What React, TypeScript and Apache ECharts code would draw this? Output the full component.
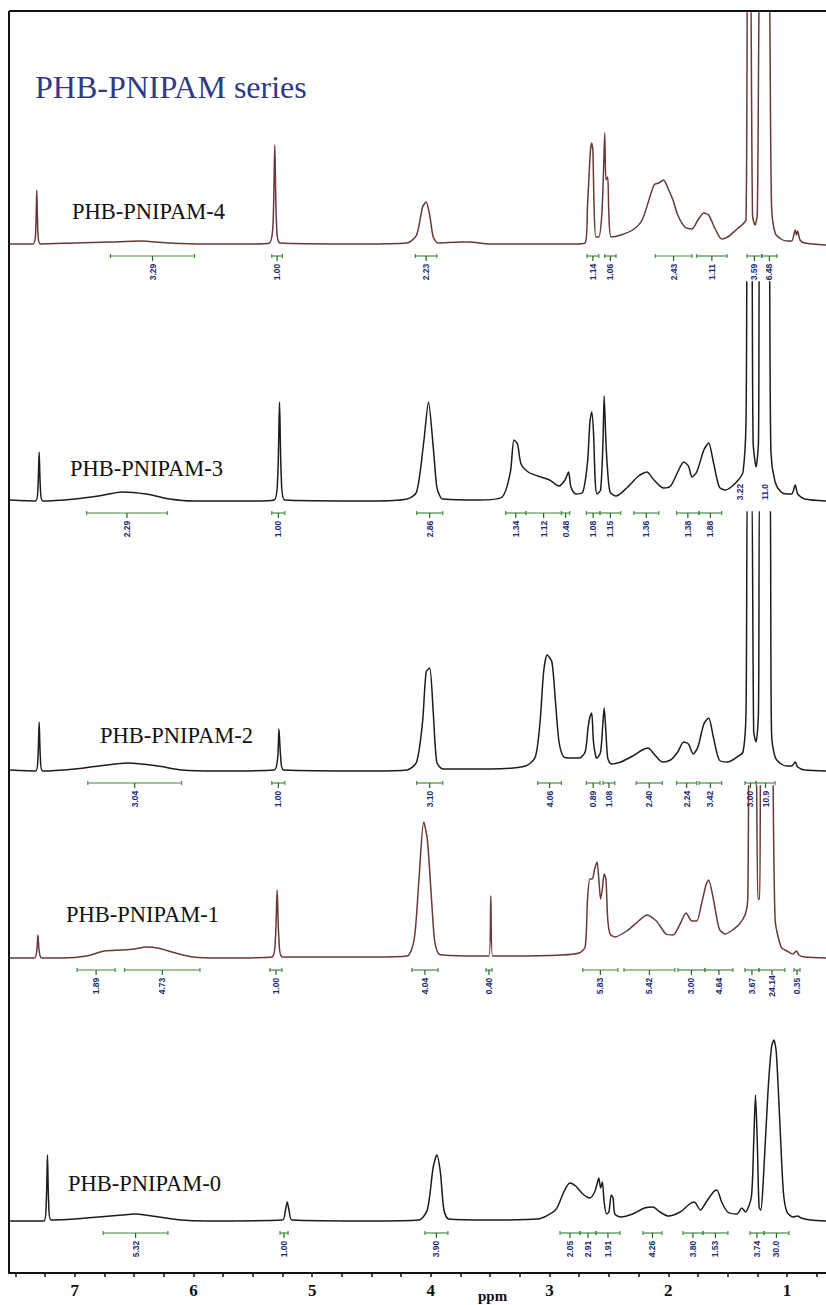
import React, { useEffect, useRef } from "react";
import * as echarts from "echarts";

// ---------- axis ----------
const PPM_LEFT = 7.554;
const PPM_RIGHT = 0.671;
const tickValues = [7.5, 7.25, 7, 6.75, 6.5, 6.25, 6, 5.75, 5.5, 5.25, 5, 4.75, 4.5, 4.25, 4, 3.75, 3.5, 3.25, 3, 2.75, 2.5, 2.25, 2, 1.75, 1.5, 1.25, 1, 0.75];
const labelValues = [7, 6, 5, 4, 3, 2, 1];
const titleText = "PHB-PNIPAM series";
const axisName = "ppm";
const sampleNames = ["PHB-PNIPAM-4", "PHB-PNIPAM-3", "PHB-PNIPAM-2", "PHB-PNIPAM-1", "PHB-PNIPAM-0"];

// ---------- spectra: [ppm, intensity] ----------
const spec4 = [
  [7.55, 1], [7.35, 1], [7.33, 12], [7.32, 55], [7.31, 12], [7.29, 1], [7.0, 2], [6.7, 3], [6.45, 4], [6.2, 2], [5.9, 1],
  [5.5, 1], [5.36, 2], [5.33, 20], [5.315, 100], [5.30, 20], [5.27, 2], [4.6, 1], [4.2, 2], [4.12, 10], [4.07, 38], [4.04, 43],
  [4.01, 30], [3.98, 8], [3.94, 2], [3.75, 3], [3.68, 3], [3.5, 1], [2.8, 1], [2.7, 2], [2.68, 40], [2.665, 75], [2.655, 95],
  [2.645, 102], [2.635, 95], [2.625, 40], [2.61, 8], [2.585, 8], [2.56, 30], [2.545, 75], [2.535, 112], [2.525, 65], [2.51, 68],
  [2.50, 30], [2.48, 8], [2.4, 10], [2.3, 15], [2.22, 25], [2.12, 60], [2.08, 62], [2.04, 65], [2.0, 56], [1.96, 45], [1.92, 30],
  [1.86, 18], [1.80, 16], [1.75, 25], [1.70, 32], [1.66, 30], [1.60, 15], [1.55, 6], [1.5, 8], [1.42, 16], [1.38, 20], [1.345, 25],
  [1.33, 300], [1.31, 300], [1.29, 30], [1.27, 20], [1.25, 30], [1.22, 300], [1.16, 300], [1.13, 40], [1.10, 12], [1.05, 6],
  [1.0, 4], [0.96, 4], [0.93, 15], [0.92, 10], [0.91, 14], [0.89, 5], [0.85, 2], [0.67, 0],
];
const spec3 = [
  [7.55, 2], [7.33, 1], [7.31, 15], [7.30, 50], [7.29, 15], [7.27, 1], [7.0, 3], [6.8, 6], [6.6, 10], [6.4, 8], [6.2, 3], [6.0, 1],
  [5.5, 1], [5.32, 2], [5.29, 25], [5.275, 100], [5.26, 25], [5.23, 2], [4.5, 1], [4.2, 3], [4.12, 10], [4.06, 60], [4.02, 100],
  [3.98, 55], [3.95, 15], [3.92, 5], [3.9, 3], [3.6, 2], [3.4, 5], [3.33, 30], [3.30, 62], [3.27, 58], [3.24, 38], [3.18, 30],
  [3.10, 26], [3.00, 22], [2.92, 16], [2.87, 22], [2.84, 30], [2.82, 15], [2.78, 8], [2.72, 10], [2.68, 40], [2.66, 80],
  [2.645, 90], [2.63, 70], [2.615, 20], [2.60, 8], [2.57, 12], [2.55, 60], [2.54, 106], [2.525, 60], [2.51, 30], [2.49, 10],
  [2.44, 6], [2.35, 14], [2.25, 26], [2.18, 30], [2.12, 22], [2.04, 14], [1.98, 16], [1.92, 30], [1.87, 40], [1.83, 36],
  [1.80, 25], [1.76, 30], [1.70, 52], [1.66, 59], [1.62, 40], [1.57, 15], [1.52, 12], [1.47, 15], [1.41, 22], [1.37, 30],
  [1.345, 80], [1.33, 300], [1.30, 300], [1.285, 60], [1.26, 35], [1.24, 60], [1.225, 300], [1.16, 300], [1.135, 50],
  [1.10, 20], [1.05, 10], [1.0, 8], [0.96, 8], [0.93, 17], [0.91, 8], [0.85, 3], [0.67, 1],
];
const spec2 = [
  [7.55, 2], [7.33, 1], [7.31, 15], [7.30, 50], [7.29, 15], [7.27, 1], [7.0, 3], [6.8, 6], [6.55, 9], [6.3, 6], [6.1, 2], [5.8, 1],
  [5.32, 2], [5.29, 15], [5.28, 43], [5.265, 15], [5.24, 2], [4.5, 1], [4.2, 2], [4.12, 10], [4.07, 50], [4.04, 100], [4.01, 104],
  [3.98, 60], [3.95, 10], [3.9, 3], [3.5, 3], [3.2, 6], [3.12, 15], [3.08, 50], [3.05, 100], [3.02, 117], [2.98, 110], [2.95, 70],
  [2.92, 30], [2.88, 15], [2.82, 14], [2.75, 14], [2.70, 20], [2.675, 45], [2.66, 55], [2.645, 59], [2.63, 30], [2.61, 15],
  [2.60, 14], [2.57, 20], [2.55, 50], [2.54, 64], [2.525, 40], [2.51, 14], [2.48, 8], [2.4, 10], [2.3, 16], [2.22, 22],
  [2.17, 24], [2.12, 18], [2.05, 10], [1.98, 12], [1.92, 20], [1.87, 30], [1.83, 28], [1.79, 18], [1.75, 25], [1.70, 48],
  [1.66, 54], [1.62, 35], [1.57, 12], [1.5, 10], [1.42, 15], [1.37, 20], [1.345, 60], [1.33, 300], [1.30, 300], [1.28, 40],
  [1.26, 30], [1.24, 60], [1.225, 300], [1.15, 300], [1.13, 40], [1.10, 15], [1.05, 8], [1.0, 6], [0.96, 6], [0.93, 10],
  [0.91, 5], [0.85, 2], [0.67, 1],
];
const spec1 = [
  [7.55, 1], [7.34, 1], [7.32, 8], [7.31, 24], [7.30, 8], [7.28, 1], [7.1, 1], [6.9, 3], [6.75, 8], [6.6, 9], [6.5, 10], [6.4, 12],
  [6.3, 11], [6.15, 6], [6.0, 2], [5.8, 1], [5.34, 2], [5.31, 20], [5.295, 69], [5.28, 20], [5.25, 2], [4.5, 2], [4.2, 3],
  [4.14, 20], [4.10, 80], [4.06, 137], [4.03, 120], [4.00, 70], [3.97, 20], [3.94, 6], [3.9, 4], [3.6, 3], [3.51, 3],
  [3.495, 63], [3.48, 3], [3.3, 3], [2.9, 4], [2.75, 6], [2.70, 12], [2.68, 60], [2.66, 80], [2.64, 80], [2.62, 90], [2.60, 97],
  [2.585, 80], [2.57, 60], [2.555, 70], [2.54, 85], [2.525, 80], [2.51, 40], [2.49, 25], [2.45, 22], [2.35, 28], [2.25, 38],
  [2.18, 44], [2.10, 38], [2.02, 25], [1.96, 24], [1.90, 35], [1.85, 46], [1.80, 38], [1.76, 38], [1.72, 55], [1.68, 75],
  [1.66, 79], [1.62, 60], [1.57, 30], [1.52, 25], [1.47, 28], [1.40, 35], [1.35, 45], [1.33, 60], [1.31, 300], [1.27, 300],
  [1.245, 60], [1.23, 60], [1.21, 300], [1.14, 300], [1.10, 40], [1.05, 12], [1.0, 8], [0.95, 5], [0.92, 8], [0.90, 4],
  [0.85, 2], [0.67, 1],
];
const spec0 = [
  [7.55, 1], [7.26, 1], [7.24, 20], [7.23, 67], [7.22, 20], [7.20, 2], [7.0, 3], [6.8, 5], [6.6, 7], [6.5, 8], [6.35, 6], [6.1, 2],
  [5.9, 1], [5.25, 2], [5.225, 12], [5.21, 20], [5.195, 12], [5.17, 2], [4.5, 1], [4.1, 2], [4.03, 12], [3.98, 55], [3.95, 67],
  [3.92, 50], [3.89, 12], [3.85, 3], [3.5, 2], [3.1, 3], [2.95, 12], [2.88, 30], [2.83, 39], [2.78, 36], [2.72, 28], [2.66, 24],
  [2.62, 30], [2.6, 38], [2.585, 44], [2.57, 34], [2.555, 40], [2.54, 20], [2.52, 8], [2.50, 10], [2.48, 27], [2.465, 24],
  [2.45, 8], [2.40, 5], [2.3, 8], [2.2, 14], [2.13, 15], [2.07, 10], [2.0, 6], [1.9, 10], [1.82, 18], [1.78, 20], [1.73, 12],
  [1.68, 20], [1.62, 30], [1.59, 32], [1.55, 20], [1.5, 10], [1.42, 8], [1.38, 14], [1.35, 10], [1.30, 25], [1.28, 80],
  [1.265, 127], [1.25, 80], [1.235, 15], [1.22, 12], [1.20, 40], [1.16, 130], [1.13, 175], [1.11, 182], [1.09, 170], [1.06, 100],
  [1.03, 30], [1.0, 10], [0.95, 5], [0.91, 6], [0.88, 4], [0.8, 2], [0.67, 1],
];

// ---------- integrals: [from ppm, to ppm] and their values ----------
const int4 = [[6.70, 5.99], [5.34, 5.25], [4.13, 3.95], [2.685, 2.585], [2.535, 2.44], [2.11, 1.80], [1.76, 1.505], [1.337, 1.211], [1.211, 1.084]];
const int4Labels = ["3.29", "1.00", "2.23", "1.14", "1.06", "2.43", "1.11", "3.59", "6.48"];
const int3 = [[6.90, 6.22], [5.34, 5.23], [4.12, 3.90], [3.37, 3.20], [3.20, 2.90], [2.90, 2.83], [2.69, 2.575], [2.575, 2.40], [2.29, 2.08], [1.93, 1.74], [1.74, 1.55]];
const int3Labels = ["2.29", "1.00", "2.86", "1.34", "1.12", "0.48", "1.08", "1.15", "1.36", "1.38", "1.88"];
const raised3 = [1.396, 1.185];
const raised3Labels = ["3.22", "11.0"];
const int2 = [[6.89, 6.10], [5.34, 5.23], [4.12, 3.90], [3.10, 2.90], [2.69, 2.575], [2.55, 2.45], [2.27, 2.05], [1.93, 1.76], [1.74, 1.55], [1.354, 1.261], [1.261, 1.10]];
const int2Labels = ["3.04", "1.00", "3.10", "4.06", "0.89", "1.08", "2.40", "2.24", "3.42", "3.00", "10.9"];
const int1 = [[6.98, 6.66], [6.58, 5.945], [5.356, 5.254], [4.16, 3.94], [3.536, 3.485], [2.72, 2.424], [2.373, 1.944], [1.918, 1.691], [1.691, 1.455], [1.354, 1.236], [1.236, 1.017], [0.941, 0.89]];
const int1Labels = ["1.89", "4.73", "1.00", "4.04", "0.40", "5.83", "5.42", "3.00", "4.64", "3.67", "24.14", "0.35"];
const int0 = [[6.76, 6.215], [5.271, 5.203], [4.05, 3.856], [2.912, 2.744], [2.744, 2.609], [2.609, 2.407], [2.213, 2.053], [1.876, 1.708], [1.708, 1.497], [1.312, 1.194], [1.194, 0.983]];
const int0Labels = ["5.32", "1.00", "3.90", "2.05", "2.91", "1.91", "4.26", "3.80", "1.53", "3.74", "30.0"];

// ---------- layout (pixels) ----------
const W = 826;
const H = 1305;
const FRAME_LEFT = 9;
const FRAME_TOP = 11;
const AXIS_Y = 1273;
const panels = [
  { top: 13, base: 245, color: "#6a3838", labelX: 72, labelY: 211 },
  { top: 282, base: 502, color: "#1c1c1c", labelX: 70, labelY: 468 },
  { top: 512, base: 772, color: "#1c1c1c", labelX: 100, labelY: 735 },
  { top: 786, base: 959, color: "#6a3838", labelX: 66, labelY: 914 },
  { top: 1000, base: 1222, color: "#1c1c1c", labelX: 68, labelY: 1183 },
];
const spectra = [spec4, spec3, spec2, spec1, spec0];
const integrals = [int4, int3, int2, int1, int0];
const integralLabels = [int4Labels, int3Labels, int2Labels, int1Labels, int0Labels];

const GREEN = "#3f8f3f";
const NAVY = "#1d2a78";

function makeIntegralRender(labels: string[]) {
  return (params: any, api: any) => {
    const a = api.coord([api.value(0), 0]);
    const b = api.coord([api.value(1), 0]);
    const y = a[1] + 11;
    const x1 = Math.min(a[0], b[0]);
    const x2 = Math.max(a[0], b[0]);
    const cx = (x1 + x2) / 2;
    const st = { stroke: GREEN, lineWidth: 1.2 };
    return {
      type: "group",
      children: [
        { type: "line", shape: { x1, y1: y, x2, y2: y }, style: st },
        { type: "line", shape: { x1, y1: y - 2, x2: x1, y2: y + 2 }, style: st },
        { type: "line", shape: { x1: x2, y1: y - 2, x2, y2: y + 2 }, style: st },
        { type: "line", shape: { x1: cx, y1: y, x2: cx, y2: y + 5 }, style: { stroke: "#2d5f2d", lineWidth: 1.2 } },
        {
          type: "text",
          x: cx,
          y: y + 16,
          rotation: Math.PI / 2,
          style: {
            text: labels[params.dataIndex],
            fill: NAVY,
            fontSize: 8.5,
            fontWeight: "bold",
            fontFamily: "Liberation Sans",
            align: "center",
            verticalAlign: "middle",
          },
        },
      ],
    };
  };
}

function makeRaisedRender(labels: string[]) {
  return (params: any, api: any) => {
    const a = api.coord([api.value(0), 0]);
    return {
      type: "text",
      x: a[0],
      y: a[1] - 10,
      rotation: Math.PI / 2,
      style: {
        text: labels[params.dataIndex],
        fill: NAVY,
        fontSize: 8.5,
        fontWeight: "bold",
        fontFamily: "Liberation Sans",
        align: "center",
        verticalAlign: "middle",
      },
    };
  };
}

export default function App() {
  const ref = useRef<HTMLDivElement>(null);
  useEffect(() => {
    if (!ref.current) return;
    const chart = echarts.init(ref.current, undefined, { renderer: "svg" });

    const grids: any[] = [];
    const xAxes: any[] = [];
    const yAxes: any[] = [];
    const series: any[] = [];

    panels.forEach((p, i) => {
      grids.push({ left: FRAME_LEFT, right: 0, top: p.top, height: p.base + 6 - p.top });
      xAxes.push({ type: "value", gridIndex: i, min: PPM_RIGHT, max: PPM_LEFT, inverse: true, show: false });
      yAxes.push({ type: "value", gridIndex: i, min: -6, max: p.base - p.top, show: false });
      series.push({
        type: "line",
        xAxisIndex: i,
        yAxisIndex: i,
        data: spectra[i],
        showSymbol: false,
        symbol: "none",
        clip: true,
        smooth: 0.25,
        lineStyle: { color: p.color, width: 1.5 },
        silent: true,
      });
      series.push({
        type: "custom",
        xAxisIndex: i,
        yAxisIndex: i,
        clip: false,
        silent: true,
        data: integrals[i],
        renderItem: makeIntegralRender(integralLabels[i]),
      });
    });
    series.push({
      type: "custom",
      xAxisIndex: 1,
      yAxisIndex: 1,
      clip: false,
      silent: true,
      data: raised3.map((v) => [v, 0]),
      renderItem: makeRaisedRender(raised3Labels),
    });

    // shared ppm axis
    grids.push({ left: FRAME_LEFT, right: 0, top: FRAME_TOP, bottom: H - AXIS_Y });
    xAxes.push({
      type: "value",
      gridIndex: 5,
      min: PPM_RIGHT,
      max: PPM_LEFT,
      inverse: true,
      position: "bottom",
      splitLine: { show: false },
      axisLine: { show: true, lineStyle: { color: "#111", width: 2 } },
      axisTick: { show: true, length: 4, inside: false, customValues: tickValues, lineStyle: { color: "#111", width: 1.5 } },
      axisLabel: {
        show: true,
        customValues: labelValues,
        margin: 9,
        color: "#111",
        fontFamily: "Liberation Serif",
        fontSize: 17,
        fontWeight: "bold",
        formatter: (v: number) => String(v),
      },
    });
    yAxes.push({ type: "value", gridIndex: 5, min: 0, max: 1, show: false });

    const graphics: any[] = [
      { type: "line", shape: { x1: FRAME_LEFT, y1: FRAME_TOP, x2: W, y2: FRAME_TOP }, style: { stroke: "#111", lineWidth: 2 } },
      { type: "line", shape: { x1: FRAME_LEFT, y1: FRAME_TOP, x2: FRAME_LEFT, y2: AXIS_Y }, style: { stroke: "#111", lineWidth: 2 } },
      {
        type: "text",
        left: 35,
        top: 71,
        style: { text: titleText, fill: "#2e3a86", fontFamily: "Liberation Serif", fontSize: 32 },
      },
      {
        type: "text",
        left: 478,
        top: 1288,
        style: { text: axisName, fill: "#111", fontFamily: "Liberation Serif", fontSize: 15, fontWeight: "bold" },
      },
    ];
    panels.forEach((p, i) => {
      graphics.push({
        type: "text",
        x: p.labelX,
        y: p.labelY,
        style: {
          text: sampleNames[i],
          fill: "#111",
          fontFamily: "Liberation Serif",
          fontSize: 22.5,
          verticalAlign: "middle",
          align: "left",
        },
      });
    });

    chart.setOption({
      animation: false,
      backgroundColor: "#ffffff",
      grid: grids,
      xAxis: xAxes,
      yAxis: yAxes,
      series,
      graphic: graphics,
    });
    return () => chart.dispose();
  }, []);

  return <div ref={ref} style={{ position: "absolute", left: 0, top: 0, width: W, height: H }} />;
}
